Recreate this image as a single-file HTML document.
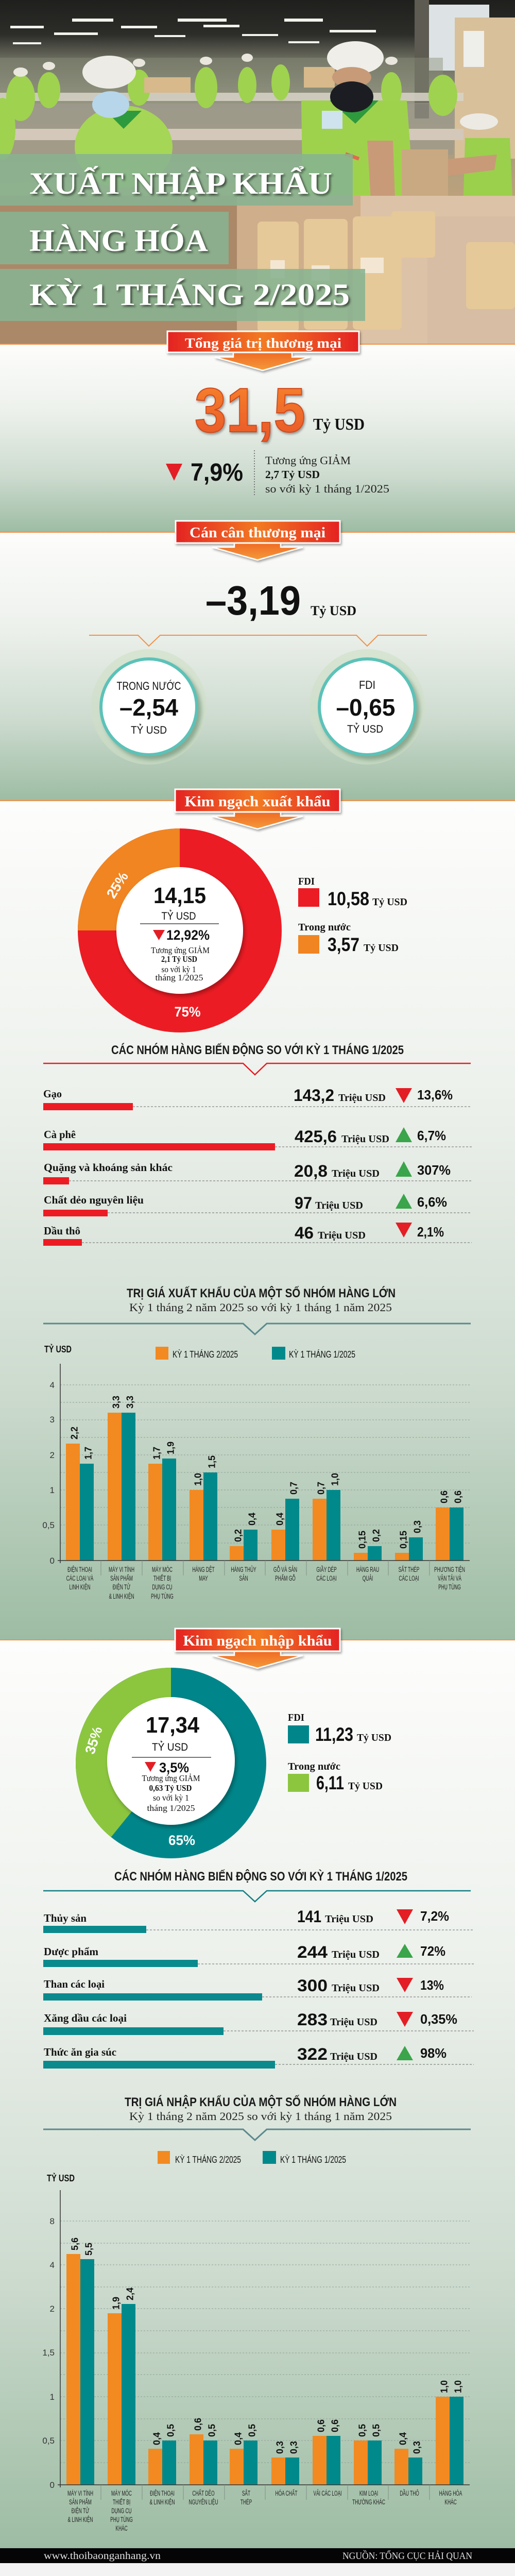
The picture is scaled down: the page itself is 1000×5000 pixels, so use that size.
<!DOCTYPE html>
<html><head><meta charset="utf-8"><title>Xuất nhập khẩu hàng hóa kỳ 1 tháng 2/2025</title>
<style>
html,body{margin:0;padding:0;background:#fff;width:1000px;height:5000px;overflow:hidden}
svg{display:block}
.s{font-family:"Liberation Sans",sans-serif}
.r{font-family:"Liberation Serif",serif}
.b{font-weight:bold}
</style></head><body>
<svg xmlns="http://www.w3.org/2000/svg" width="1000" height="5000" viewBox="0 0 1000 5000">
<defs>
<linearGradient id="ph" x1="0" y1="0" x2="0" y2="1">
<stop offset="0" stop-color="#1f201d"/><stop offset=".1" stop-color="#2c2d29"/><stop offset=".17" stop-color="#6a6b5e"/><stop offset=".3" stop-color="#9a9a88"/><stop offset=".45" stop-color="#ad9e7e"/><stop offset=".6" stop-color="#c0a27c"/><stop offset="1" stop-color="#c3a582"/>
</linearGradient>
<linearGradient id="sg" x1="0" y1="0" x2="0" y2="1">
<stop offset="0" stop-color="#fdfdfc"/><stop offset=".35" stop-color="#edf1ec"/><stop offset=".7" stop-color="#cddbcf"/><stop offset="1" stop-color="#9dbca3"/>
</linearGradient>
<linearGradient id="lab" x1="0" y1="0" x2="1" y2="0">
<stop offset="0" stop-color="#e42322"/><stop offset=".5" stop-color="#f27a22"/><stop offset="1" stop-color="#e42322"/>
</linearGradient>
<linearGradient id="arr" x1="0" y1="0" x2="0" y2="1">
<stop offset="0" stop-color="#ef6a25"/><stop offset="1" stop-color="#f59a3a"/>
</linearGradient>
<linearGradient id="big" x1="0" y1="0" x2="0" y2="1">
<stop offset="0" stop-color="#f7862d"/><stop offset="1" stop-color="#e8552a"/>
</linearGradient>
<filter id="ts" x="-10%" y="-30%" width="120%" height="160%"><feDropShadow dx="3" dy="3" stdDeviation="2" flood-color="#000" flood-opacity="0.6"/></filter>
<filter id="ls" x="-10%" y="-30%" width="120%" height="170%"><feDropShadow dx="2" dy="3" stdDeviation="2" flood-color="#000" flood-opacity="0.35"/></filter>
<filter id="cs" x="-20%" y="-20%" width="140%" height="140%"><feDropShadow dx="3" dy="5" stdDeviation="4" flood-color="#000" flood-opacity="0.3"/></filter>
<filter id="bl"><feGaussianBlur stdDeviation="4"/></filter>
</defs>

<!-- ============ PHOTO ============ -->
<rect x="0" y="0" width="1000" height="668" fill="url(#ph)"/>
<g fill="#f2f2ec">
<rect x="140" y="36" width="80" height="6"/><rect x="345" y="36" width="95" height="6"/><rect x="552" y="36" width="75" height="6"/>
<rect x="20" y="50" width="65" height="5"/><rect x="235" y="50" width="70" height="5"/><rect x="395" y="48" width="70" height="5"/>
<rect x="105" y="63" width="85" height="5"/><rect x="300" y="68" width="60" height="4"/><rect x="470" y="66" width="70" height="4"/>
<rect x="640" y="58" width="90" height="5"/><rect x="560" y="80" width="60" height="4"/><rect x="25" y="82" width="55" height="4"/>
</g>
<rect x="833" y="9" width="117" height="128" fill="#dde3e4"/>
<rect x="805" y="0" width="28" height="230" fill="#5d5b52"/>
<rect x="883" y="34" width="117" height="274" fill="#d8c09b"/>
<rect x="900" y="60" width="40" height="70" fill="#eeeeea"/>
<rect x="0" y="112" width="860" height="90" fill="#8a8d78" opacity=".45"/>
<rect x="0" y="200" width="880" height="100" fill="#9c998e" opacity=".6"/>
<rect x="0" y="180" width="900" height="16" fill="#d8d3c8" opacity=".85"/>
<rect x="0" y="250" width="900" height="22" fill="#d3c8ba"/>
<g fill="#9fd24f">
<ellipse cx="40" cy="190" rx="28" ry="45"/><ellipse cx="95" cy="175" rx="22" ry="35"/><ellipse cx="270" cy="170" rx="22" ry="35"/>
<ellipse cx="400" cy="170" rx="22" ry="40"/><ellipse cx="480" cy="165" rx="18" ry="35"/><ellipse cx="545" cy="160" rx="18" ry="35"/>
<ellipse cx="760" cy="175" rx="20" ry="35"/><ellipse cx="860" cy="185" rx="28" ry="40"/><ellipse cx="5" cy="250" rx="25" ry="60"/>
</g>
<g fill="#e9e6de"><ellipse cx="40" cy="140" rx="14" ry="9"/><ellipse cx="95" cy="128" rx="12" ry="8"/><ellipse cx="270" cy="122" rx="12" ry="8"/><ellipse cx="400" cy="118" rx="12" ry="8"/><ellipse cx="480" cy="112" rx="11" ry="8"/><ellipse cx="760" cy="118" rx="12" ry="8"/></g>
<g fill="#d7b98b"><rect x="280" y="150" width="90" height="30"/><rect x="170" y="120" width="50" height="40"/><rect x="590" y="130" width="60" height="40"/></g>
<!-- left worker -->
<ellipse cx="240" cy="285" rx="95" ry="80" fill="#a5d656"/>
<path d="M205 215 L240 250 L275 215 Z" fill="#2e9a3e"/>
<ellipse cx="212" cy="140" rx="52" ry="32" fill="#ecebe5"/>
<ellipse cx="215" cy="203" rx="36" ry="26" fill="#b7d6ea"/>
<!-- right worker -->
<path d="M585 195 L790 195 L805 400 L588 400 Z" fill="#9fd24c"/>
<path d="M640 195 L690 240 L735 195 Z" fill="#2e9a3e"/>
<ellipse cx="690" cy="112" rx="55" ry="32" fill="#efeee8"/>
<ellipse cx="683" cy="150" rx="38" ry="20" fill="#c79a78"/>
<ellipse cx="683" cy="188" rx="42" ry="30" fill="#1c1d22"/>
<path d="M713 273 L763 273 L770 470 L725 470 Z" fill="#c99a78"/>
<rect x="625" y="215" width="40" height="35" fill="#cfe3ee"/>
<!-- far right worker -->
<path d="M903 268 L990 268 L995 382 L900 382 Z" fill="#9ad04c"/>
<ellipse cx="930" cy="236" rx="37" ry="16" fill="#eceae3"/>
<path d="M835 312 L965 300 L960 330 L840 345 Z" fill="#c99a78"/>
<rect x="780" y="290" width="90" height="90" fill="#c9a981"/>
<!-- foreground table and trays -->
<rect x="0" y="380" width="1000" height="288" fill="#cfae8c"/>
<rect x="700" y="380" width="300" height="288" fill="#dcc2a6"/>
<rect x="830" y="420" width="180" height="248" fill="#d7bda3"/>
<rect x="0" y="380" width="460" height="288" fill="#8e6a4a" opacity=".55"/>
<g fill="#e6c998">
<rect x="500" y="430" width="80" height="215" rx="8"/><rect x="590" y="425" width="85" height="215" rx="8"/><rect x="685" y="420" width="95" height="220" rx="8"/>
<rect x="760" y="410" width="85" height="90" rx="6"/><rect x="905" y="470" width="95" height="130" rx="8"/>
</g>
<g fill="#f3e7d4"><rect x="525" y="505" width="28" height="35"/><rect x="605" y="515" width="35" height="30"/><rect x="700" y="500" width="45" height="30"/></g>
<rect x="670" y="300" width="28" height="7" fill="#e06b4e" transform="rotate(20 684 303)"/>

<!-- title boxes -->
<rect x="0" y="299" width="685" height="100" fill="#88b391" opacity=".88"/>
<rect x="0" y="411" width="444" height="102" fill="#88b391" opacity=".88"/>
<rect x="0" y="522" width="709" height="101" fill="#88b391" opacity=".88"/>
<g class="r b" font-size="60" fill="#fff" filter="url(#ts)">
<text x="57" y="376" textLength="588" lengthAdjust="spacingAndGlyphs">XUẤT NHẬP KHẨU</text>
<text x="57" y="487" textLength="347" lengthAdjust="spacingAndGlyphs">HÀNG HÓA</text>
<text x="57" y="592" textLength="622" lengthAdjust="spacingAndGlyphs">KỲ 1 THÁNG 2/2025</text>
</g>

<!-- ============ SECTION 1 ============ -->
<rect x="0" y="669" width="1000" height="364" fill="url(#sg)"/>
<rect x="0" y="667" width="1000" height="2" fill="#f0924a"/>

<g filter="url(#ls)">
<polygon points="453,683 567,683 567,693 602,693 510,719 417,693 453,693" fill="url(#arr)" stroke="#fff" stroke-width="2.5"/>
<rect x="325" y="643" width="372" height="41" fill="url(#lab)" stroke="#fff" stroke-width="3"/>
</g>
<text class="r b" x="511" y="675" font-size="27" fill="#fff" text-anchor="middle" textLength="304" lengthAdjust="spacingAndGlyphs">Tổng giá trị thương mại</text>

<text class="s b" x="378" y="838" font-size="122" fill="url(#big)" stroke="#d04a1c" stroke-width="2" filter="url(#ls)" textLength="215" lengthAdjust="spacingAndGlyphs">31,5</text>
<text class="r b" x="608" y="834" font-size="32" fill="#111" textLength="100" lengthAdjust="spacingAndGlyphs">Tỷ USD</text>

<polygon points="322,900 354,900 338,933" fill="#e31e25"/>
<text class="s b" x="370" y="933" font-size="48" fill="#111" textLength="102" lengthAdjust="spacingAndGlyphs">7,9%</text>
<line x1="494" y1="874" x2="494" y2="961" stroke="#555" stroke-width="1.5" stroke-dasharray="2,3"/>
<text class="r" x="515" y="901" font-size="22" fill="#222" textLength="166" lengthAdjust="spacingAndGlyphs">Tương ứng GIẢM</text>
<text class="r b" x="515" y="928" font-size="21" fill="#111" textLength="106" lengthAdjust="spacingAndGlyphs">2,7 Tỷ USD</text>
<text class="r" x="515" y="956" font-size="22" fill="#222" textLength="241" lengthAdjust="spacingAndGlyphs">so với kỳ 1 tháng 1/2025</text>

<!-- ============ SECTION 2 ============ -->
<rect x="0" y="1034" width="1000" height="520" fill="url(#sg)"/>
<rect x="0" y="1032" width="1000" height="2" fill="#f0924a"/>
<g filter="url(#ls)">
<polygon points="455,1054 545,1054 545,1062 588,1062 500,1087 412,1062 455,1062" fill="url(#arr)" stroke="#fff" stroke-width="2.5"/>
<rect x="341" y="1011" width="319" height="43" fill="url(#lab)" stroke="#fff" stroke-width="3"/>
</g>
<text class="r b" x="500" y="1043" font-size="28" fill="#fff" text-anchor="middle" textLength="264" lengthAdjust="spacingAndGlyphs">Cán cân thương mại</text>

<text class="s b" x="399" y="1193" font-size="80" fill="#111" textLength="185" lengthAdjust="spacingAndGlyphs">–3,19</text>
<text class="r b" x="603" y="1194" font-size="26" fill="#111" textLength="89" lengthAdjust="spacingAndGlyphs">Tỷ USD</text>

<polyline points="173,1233 268,1233 289,1254 311,1233 692,1233 713,1254 734,1233 829,1233" fill="none" stroke="#f0924a" stroke-width="2"/>

<g>
<circle cx="289" cy="1372" r="112" fill="#cfe0c6" opacity=".6"/>
<circle cx="295" cy="1379" r="96" fill="#5c7f62" opacity=".55" filter="url(#bl)"/>
<circle cx="289" cy="1372" r="93" fill="#fff" stroke="#5cc2b8" stroke-width="6"/>
<circle cx="713" cy="1372" r="112" fill="#cfe0c6" opacity=".6"/>
<circle cx="719" cy="1379" r="96" fill="#5c7f62" opacity=".55" filter="url(#bl)"/>
<circle cx="713" cy="1372" r="93" fill="#fff" stroke="#5cc2b8" stroke-width="6"/>
</g>
<g class="s" fill="#111" text-anchor="middle">
<text x="289" y="1339" font-size="22" textLength="125" lengthAdjust="spacingAndGlyphs">TRONG NƯỚC</text>
<text x="289" y="1389" font-size="46" font-weight="bold" textLength="114" lengthAdjust="spacingAndGlyphs">–2,54</text>
<text x="289" y="1424" font-size="21" textLength="70" lengthAdjust="spacingAndGlyphs">TỶ USD</text>
<text x="713" y="1337" font-size="22" textLength="32" lengthAdjust="spacingAndGlyphs">FDI</text>
<text x="710" y="1389" font-size="46" font-weight="bold" textLength="115" lengthAdjust="spacingAndGlyphs">–0,65</text>
<text x="709" y="1422" font-size="21" textLength="70" lengthAdjust="spacingAndGlyphs">TỶ USD</text>
</g>

<!-- ============ SECTION 3 EXPORT ============ -->
<rect x="0" y="1555" width="1000" height="1628" fill="url(#sg)"/>
<rect x="0" y="1553" width="1000" height="2" fill="#f0924a"/>

<circle cx="349" cy="1806" r="198" fill="#ec1c24"/>
<path d="M349,1806 L151,1806 A198,198 0 0 1 349,1608 Z" fill="#f08522"/>
<circle cx="349" cy="1806" r="123" fill="#fff" filter="url(#cs)"/>
<text class="s b" transform="translate(228,1718) rotate(-58)" x="0" y="9" font-size="27" fill="#fff" text-anchor="middle">25%</text>
<text class="s b" x="364" y="1973" font-size="27" fill="#fff" text-anchor="middle" textLength="51" lengthAdjust="spacingAndGlyphs">75%</text>

<g filter="url(#ls)">
<polygon points="455,1576 545,1576 545,1584 588,1584 500,1609 412,1584 455,1584" fill="url(#arr)" stroke="#fff" stroke-width="2.5"/>
<rect x="340" y="1532" width="320" height="44" fill="url(#lab)" stroke="#fff" stroke-width="3"/>
</g>
<text class="r b" x="500" y="1565" font-size="28" fill="#fff" text-anchor="middle" textLength="283" lengthAdjust="spacingAndGlyphs">Kim ngạch xuất khẩu</text>

<g fill="#111" text-anchor="middle">
<text class="s b" x="349" y="1753" font-size="44" textLength="102" lengthAdjust="spacingAndGlyphs">14,15</text>
<text class="s" x="347" y="1785" font-size="21" textLength="67" lengthAdjust="spacingAndGlyphs">TỶ USD</text>
<text class="s b" x="365" y="1824" font-size="27" textLength="84" lengthAdjust="spacingAndGlyphs">12,92%</text>
<text class="r" x="350" y="1850" font-size="17" textLength="114" lengthAdjust="spacingAndGlyphs">Tương ứng GIẢM</text>
<text class="r b" x="348" y="1867" font-size="17" textLength="70" lengthAdjust="spacingAndGlyphs">2,1 Tỷ USD</text>
<text class="r" x="347" y="1887" font-size="17" textLength="67" lengthAdjust="spacingAndGlyphs">so với kỳ 1</text>
<text class="r" x="348" y="1903" font-size="17" textLength="93" lengthAdjust="spacingAndGlyphs">tháng 1/2025</text>
</g>
<line x1="272" y1="1793" x2="425" y2="1793" stroke="#222" stroke-width="1.2"/>
<polygon points="297,1805 320,1805 308.5,1825" fill="#e31e25"/>

<text class="r b" x="579" y="1717" font-size="20" fill="#111" textLength="32" lengthAdjust="spacingAndGlyphs">FDI</text>
<rect x="579" y="1724" width="41" height="36" fill="#ec1c24"/>
<text class="s b" x="636" y="1757" font-size="37" fill="#111" textLength="81" lengthAdjust="spacingAndGlyphs">10,58</text>
<text class="r b" x="723" y="1757" font-size="20" fill="#111" textLength="68" lengthAdjust="spacingAndGlyphs">Tỷ USD</text>
<text class="r b" x="579" y="1806" font-size="20" fill="#111" textLength="102" lengthAdjust="spacingAndGlyphs">Trong nước</text>
<rect x="579" y="1815" width="41" height="36" fill="#f08522"/>
<text class="s b" x="636" y="1846" font-size="37" fill="#111" textLength="62" lengthAdjust="spacingAndGlyphs">3,57</text>
<text class="r b" x="706" y="1846" font-size="20" fill="#111" textLength="68" lengthAdjust="spacingAndGlyphs">Tỷ USD</text>

<text class="s b" x="216" y="2046" font-size="24" fill="#1a1a1a" textLength="568" lengthAdjust="spacingAndGlyphs">CÁC NHÓM HÀNG BIẾN ĐỘNG SO VỚI KỲ 1 THÁNG 1/2025</text>
<polyline points="84,2064 472,2064 495,2086 518,2064 914,2064" fill="none" stroke="#e41e26" stroke-width="2.5"/>

<g stroke="#6a6a6a" stroke-width="1" stroke-dasharray="4,3">
<line x1="258" y1="2148" x2="916" y2="2148"/>
<line x1="534" y1="2226" x2="916" y2="2226"/>
<line x1="134" y1="2292" x2="916" y2="2292"/>
<line x1="209" y1="2354" x2="916" y2="2354"/>
<line x1="159" y1="2412" x2="916" y2="2412"/>
</g>
<g fill="#ec1c24">
<rect x="84" y="2141" width="174" height="14"/>
<rect x="84" y="2219" width="450" height="14"/>
<rect x="84" y="2285" width="50" height="14"/>
<rect x="84" y="2348" width="125" height="13"/>
<rect x="84" y="2405" width="75" height="13"/>
</g>
<g class="r b" font-size="21" fill="#111">
<text x="84" y="2130" textLength="36" lengthAdjust="spacingAndGlyphs">Gạo</text>
<text x="85" y="2209" textLength="62" lengthAdjust="spacingAndGlyphs">Cà phê</text>
<text x="85" y="2273" textLength="250" lengthAdjust="spacingAndGlyphs">Quặng và khoáng sản khác</text>
<text x="85" y="2336" textLength="194" lengthAdjust="spacingAndGlyphs">Chất dẻo nguyên liệu</text>
<text x="85" y="2396" textLength="71" lengthAdjust="spacingAndGlyphs">Dầu thô</text>
</g>
<g class="s b" font-size="32" fill="#111">
<text x="570" y="2137" textLength="79" lengthAdjust="spacingAndGlyphs">143,2</text>
<text x="572" y="2217" textLength="82" lengthAdjust="spacingAndGlyphs">425,6</text>
<text x="571" y="2284" textLength="65" lengthAdjust="spacingAndGlyphs">20,8</text>
<text x="572" y="2346" textLength="34" lengthAdjust="spacingAndGlyphs">97</text>
<text x="572" y="2404" textLength="37" lengthAdjust="spacingAndGlyphs">46</text>
</g>
<g class="r b" font-size="20" fill="#111">
<text x="657" y="2137" textLength="92" lengthAdjust="spacingAndGlyphs">Triệu USD</text>
<text x="663" y="2217" textLength="93" lengthAdjust="spacingAndGlyphs">Triệu USD</text>
<text x="644" y="2284" textLength="93" lengthAdjust="spacingAndGlyphs">Triệu USD</text>
<text x="612" y="2346" textLength="93" lengthAdjust="spacingAndGlyphs">Triệu USD</text>
<text x="617" y="2404" textLength="93" lengthAdjust="spacingAndGlyphs">Triệu USD</text>
</g>
<polygon points="768,2112 800,2112 784,2141" fill="#e31e25"/>
<polygon points="768,2217 800,2217 784,2188" fill="#3aa54a"/>
<polygon points="768,2284 800,2284 784,2254" fill="#3aa54a"/>
<polygon points="768,2346 800,2346 784,2317" fill="#3aa54a"/>
<polygon points="768,2373 800,2373 784,2402" fill="#e31e25"/>
<g class="s b" font-size="26" fill="#111">
<text x="810" y="2134" textLength="69" lengthAdjust="spacingAndGlyphs">13,6%</text>
<text x="810" y="2213" textLength="56" lengthAdjust="spacingAndGlyphs">6,7%</text>
<text x="810" y="2280" textLength="65" lengthAdjust="spacingAndGlyphs">307%</text>
<text x="810" y="2342" textLength="58" lengthAdjust="spacingAndGlyphs">6,6%</text>
<text x="810" y="2400" textLength="52" lengthAdjust="spacingAndGlyphs">2,1%</text>
</g>

<text class="s b" x="246" y="2518" font-size="24" fill="#1a1a1a" textLength="522" lengthAdjust="spacingAndGlyphs">TRỊ GIÁ XUẤT KHẨU CỦA MỘT SỐ NHÓM HÀNG LỚN</text>
<text class="r" x="251" y="2545" font-size="22" fill="#222" textLength="510" lengthAdjust="spacingAndGlyphs">Kỳ 1 tháng 2 năm 2025 so với kỳ 1 tháng 1 năm 2025</text>
<polyline points="84,2569 472,2569 495,2590 518,2569 914,2569" fill="none" stroke="#5b8a8d" stroke-width="3"/>
<text class="s b" x="86" y="2625" font-size="18" fill="#111" textLength="53" lengthAdjust="spacingAndGlyphs">TỶ USD</text>
<rect x="302" y="2614" width="25" height="25" fill="#f28a21"/>
<text class="s" x="335" y="2635" font-size="18" fill="#111" textLength="127" lengthAdjust="spacingAndGlyphs">KỲ 1 THÁNG 2/2025</text>
<rect x="528" y="2614" width="26" height="25" fill="#00898b"/>
<text class="s" x="561" y="2635" font-size="18" fill="#111" textLength="129" lengthAdjust="spacingAndGlyphs">KỲ 1 THÁNG 1/2025</text>

<g stroke="#8f9f95" stroke-width="0.9" stroke-dasharray="3,3">
<line x1="117" y1="2688" x2="912" y2="2688"/><line x1="117" y1="2722" x2="912" y2="2722"/><line x1="117" y1="2756" x2="912" y2="2756"/>
<line x1="117" y1="2790" x2="912" y2="2790"/><line x1="117" y1="2824" x2="912" y2="2824"/><line x1="117" y1="2858" x2="912" y2="2858"/>
<line x1="117" y1="2892" x2="912" y2="2892"/><line x1="117" y1="2926" x2="912" y2="2926"/><line x1="117" y1="2960" x2="912" y2="2960"/>
<line x1="117" y1="2995" x2="912" y2="2995"/>
</g>
<g class="s" font-size="17" fill="#333" text-anchor="end">
<text x="106" y="2694">4</text><text x="106" y="2761">3</text><text x="106" y="2830">2</text><text x="106" y="2898">1</text><text x="106" y="2966">0,5</text><text x="106" y="3035">0</text>
</g>
<g fill="#f28a21">
<rect x="128" y="2802" width="27" height="227"/><rect x="209" y="2742" width="27" height="287"/><rect x="288" y="2841" width="27" height="188"/>
<rect x="368" y="2892" width="27" height="137"/><rect x="446" y="3001" width="27" height="28"/><rect x="527" y="2969" width="27" height="60"/>
<rect x="607" y="2909" width="27" height="120"/><rect x="687" y="3014" width="27" height="15"/><rect x="767" y="3014" width="27" height="15"/>
<rect x="846" y="2926" width="27" height="103"/>
</g>
<g fill="#00898b">
<rect x="155" y="2841" width="27" height="188"/><rect x="236" y="2742" width="27" height="287"/><rect x="315" y="2831" width="27" height="198"/>
<rect x="395" y="2858" width="27" height="171"/><rect x="473" y="2969" width="27" height="60"/><rect x="554" y="2909" width="27" height="120"/>
<rect x="634" y="2892" width="27" height="137"/><rect x="714" y="3001" width="27" height="28"/><rect x="794" y="2984" width="27" height="45"/>
<rect x="873" y="2926" width="27" height="103"/>
</g>
<line x1="117" y1="2647" x2="117" y2="3034" stroke="#333" stroke-width="1.5"/>
<line x1="112" y1="3029" x2="912" y2="3029" stroke="#333" stroke-width="1.5"/>
<g stroke="#7f8f85" stroke-width="1">
<line x1="196" y1="3029" x2="196" y2="3058"/><line x1="276" y1="3029" x2="276" y2="3058"/><line x1="356" y1="3029" x2="356" y2="3058"/>
<line x1="436" y1="3029" x2="436" y2="3058"/><line x1="515" y1="3029" x2="515" y2="3058"/><line x1="595" y1="3029" x2="595" y2="3058"/>
<line x1="675" y1="3029" x2="675" y2="3058"/><line x1="754" y1="3029" x2="754" y2="3058"/><line x1="834" y1="3029" x2="834" y2="3058"/>
</g>
<g class="s b" font-size="18" fill="#111">
<text transform="translate(150.5,2794) rotate(-90)">2,2</text><text transform="translate(177.5,2833) rotate(-90)">1,7</text>
<text transform="translate(231.5,2734) rotate(-90)">3,3</text><text transform="translate(258.5,2734) rotate(-90)">3,3</text>
<text transform="translate(310.5,2833) rotate(-90)">1,7</text><text transform="translate(337.5,2823) rotate(-90)">1,9</text>
<text transform="translate(390.5,2884) rotate(-90)">1,0</text><text transform="translate(417.5,2850) rotate(-90)">1,5</text>
<text transform="translate(468.5,2993) rotate(-90)">0,2</text><text transform="translate(495.5,2961) rotate(-90)">0,4</text>
<text transform="translate(549.5,2961) rotate(-90)">0,4</text><text transform="translate(576.5,2901) rotate(-90)">0,7</text>
<text transform="translate(629.5,2901) rotate(-90)">0,7</text><text transform="translate(656.5,2884) rotate(-90)">1,0</text>
<text transform="translate(709.5,3006) rotate(-90)">0,15</text><text transform="translate(736.5,2993) rotate(-90)">0,2</text>
<text transform="translate(789.5,3006) rotate(-90)">0,15</text><text transform="translate(816.5,2976) rotate(-90)">0,3</text>
<text transform="translate(868.5,2918) rotate(-90)">0,6</text><text transform="translate(895.5,2918) rotate(-90)">0,6</text>
</g>
<g class="s" font-size="14" fill="#222" text-anchor="middle">
<text transform="translate(155,0) scale(0.6,1)"><tspan x="0" y="3051">ĐIỆN THOẠI</tspan><tspan x="0" y="3068">CÁC LOẠI VÀ</tspan><tspan x="0" y="3085">LINH KIỆN</tspan></text>
<text transform="translate(236,0) scale(0.6,1)"><tspan x="0" y="3051">MÁY VI TÍNH</tspan><tspan x="0" y="3068">SẢN PHẨM</tspan><tspan x="0" y="3085">ĐIỆN TỬ</tspan><tspan x="0" y="3103">&amp; LINH KIỆN</tspan></text>
<text transform="translate(315,0) scale(0.6,1)"><tspan x="0" y="3051">MÁY MÓC</tspan><tspan x="0" y="3068">THIẾT BỊ</tspan><tspan x="0" y="3085">DỤNG CỤ</tspan><tspan x="0" y="3103">PHỤ TÙNG</tspan></text>
<text transform="translate(395,0) scale(0.6,1)"><tspan x="0" y="3051">HÀNG DỆT</tspan><tspan x="0" y="3068">MAY</tspan></text>
<text transform="translate(473,0) scale(0.6,1)"><tspan x="0" y="3051">HÀNG THỦY</tspan><tspan x="0" y="3068">SẢN</tspan></text>
<text transform="translate(554,0) scale(0.6,1)"><tspan x="0" y="3051">GỖ VÀ SẢN</tspan><tspan x="0" y="3068">PHẨM GỖ</tspan></text>
<text transform="translate(634,0) scale(0.6,1)"><tspan x="0" y="3051">GIẦY DÉP</tspan><tspan x="0" y="3068">CÁC LOẠI</tspan></text>
<text transform="translate(714,0) scale(0.6,1)"><tspan x="0" y="3051">HÀNG RAU</tspan><tspan x="0" y="3068">QUẢI</tspan></text>
<text transform="translate(794,0) scale(0.6,1)"><tspan x="0" y="3051">SẮT THÉP</tspan><tspan x="0" y="3068">CÁC LOẠI</tspan></text>
<text transform="translate(873,0) scale(0.6,1)"><tspan x="0" y="3051">PHƯƠNG TIỆN</tspan><tspan x="0" y="3068">VẬN TẢI VÀ</tspan><tspan x="0" y="3085">PHỤ TÙNG</tspan></text>
</g>

<!-- ============ SECTION 4 IMPORT ============ -->
<rect x="0" y="3184" width="1000" height="1762" fill="url(#sg)"/>
<rect x="0" y="3182" width="1000" height="2" fill="#f0924a"/>

<circle cx="332" cy="3422" r="185" fill="#00868a"/>
<path d="M332,3422 L215.6,3565.8 A185,185 0 0 1 332,3237 Z" fill="#8cc63f"/>
<circle cx="332" cy="3418" r="124" fill="#fff" filter="url(#cs)"/>
<text class="s b" transform="translate(182,3378) rotate(-72)" x="0" y="9" font-size="27" fill="#fff" text-anchor="middle">35%</text>
<text class="s b" x="353" y="3581" font-size="27" fill="#fff" text-anchor="middle" textLength="52" lengthAdjust="spacingAndGlyphs">65%</text>

<g filter="url(#ls)">
<polygon points="455,3205 545,3205 545,3213 588,3213 500,3238 412,3213 455,3213" fill="url(#arr)" stroke="#fff" stroke-width="2.5"/>
<rect x="340" y="3161" width="320" height="44" fill="url(#lab)" stroke="#fff" stroke-width="3"/>
</g>
<text class="r b" x="500" y="3194" font-size="28" fill="#fff" text-anchor="middle" textLength="289" lengthAdjust="spacingAndGlyphs">Kim ngạch nhập khẩu</text>

<g fill="#111" text-anchor="middle">
<text class="s b" x="335" y="3363" font-size="44" textLength="104" lengthAdjust="spacingAndGlyphs">17,34</text>
<text class="s" x="330" y="3398" font-size="21" textLength="70" lengthAdjust="spacingAndGlyphs">TỶ USD</text>
<text class="s b" x="338" y="3440" font-size="27" textLength="58" lengthAdjust="spacingAndGlyphs">3,5%</text>
<text class="r" x="332" y="3457" font-size="17" textLength="113" lengthAdjust="spacingAndGlyphs">Tương ứng GIẢM</text>
<text class="r b" x="331" y="3476" font-size="17" textLength="83" lengthAdjust="spacingAndGlyphs">0,63 Tỷ USD</text>
<text class="r" x="332" y="3495" font-size="17" textLength="70" lengthAdjust="spacingAndGlyphs">so với kỳ 1</text>
<text class="r" x="332" y="3515" font-size="17" textLength="93" lengthAdjust="spacingAndGlyphs">tháng 1/2025</text>
</g>
<line x1="256" y1="3411" x2="410" y2="3411" stroke="#222" stroke-width="1.2"/>
<polygon points="281,3420 303,3420 292,3439" fill="#e31e25"/>

<text class="r b" x="559" y="3340" font-size="20" fill="#111" textLength="32" lengthAdjust="spacingAndGlyphs">FDI</text>
<rect x="559" y="3349" width="41" height="35" fill="#00868a"/>
<text class="s b" x="612" y="3379" font-size="37" fill="#111" textLength="74" lengthAdjust="spacingAndGlyphs">11,23</text>
<text class="r b" x="693" y="3379" font-size="20" fill="#111" textLength="67" lengthAdjust="spacingAndGlyphs">Tỷ USD</text>
<text class="r b" x="559" y="3435" font-size="20" fill="#111" textLength="102" lengthAdjust="spacingAndGlyphs">Trong nước</text>
<rect x="559" y="3443" width="41" height="35" fill="#8cc63f"/>
<text class="s b" x="614" y="3473" font-size="37" fill="#111" textLength="54" lengthAdjust="spacingAndGlyphs">6,11</text>
<text class="r b" x="676" y="3473" font-size="20" fill="#111" textLength="67" lengthAdjust="spacingAndGlyphs">Tỷ USD</text>

<text class="s b" x="222" y="3650" font-size="24" fill="#1a1a1a" textLength="569" lengthAdjust="spacingAndGlyphs">CÁC NHÓM HÀNG BIẾN ĐỘNG SO VỚI KỲ 1 THÁNG 1/2025</text>
<polyline points="84,3670 472,3670 495,3691 518,3670 914,3670" fill="none" stroke="#137f85" stroke-width="2.5"/>

<g stroke="#6a6a6a" stroke-width="1" stroke-dasharray="4,3">
<line x1="284" y1="3746" x2="920" y2="3746"/>
<line x1="384" y1="3812" x2="920" y2="3812"/>
<line x1="509" y1="3876" x2="916" y2="3876"/>
<line x1="434" y1="3942" x2="920" y2="3942"/>
<line x1="534" y1="4007" x2="920" y2="4007"/>
</g>
<g fill="#0a8a8c">
<rect x="84" y="3738" width="200" height="14"/>
<rect x="84" y="3804" width="300" height="14"/>
<rect x="84" y="3869" width="425" height="14"/>
<rect x="84" y="3935" width="350" height="15"/>
<rect x="84" y="4000" width="450" height="15"/>
</g>
<g class="r b" font-size="21" fill="#111">
<text x="85" y="3730" textLength="83" lengthAdjust="spacingAndGlyphs">Thủy sản</text>
<text x="85" y="3795" textLength="106" lengthAdjust="spacingAndGlyphs">Dược phẩm</text>
<text x="85" y="3858" textLength="118" lengthAdjust="spacingAndGlyphs">Than các loại</text>
<text x="85" y="3924" textLength="161" lengthAdjust="spacingAndGlyphs">Xăng dầu các loại</text>
<text x="85" y="3990" textLength="141" lengthAdjust="spacingAndGlyphs">Thức ăn gia súc</text>
</g>
<g class="s b" font-size="32" fill="#111">
<text x="577" y="3731" textLength="47" lengthAdjust="spacingAndGlyphs">141</text>
<text x="577" y="3800" textLength="59" lengthAdjust="spacingAndGlyphs">244</text>
<text x="577" y="3865" textLength="59" lengthAdjust="spacingAndGlyphs">300</text>
<text x="577" y="3931" textLength="59" lengthAdjust="spacingAndGlyphs">283</text>
<text x="577" y="3998" textLength="59" lengthAdjust="spacingAndGlyphs">322</text>
</g>
<g class="r b" font-size="20" fill="#111">
<text x="631" y="3731" textLength="94" lengthAdjust="spacingAndGlyphs">Triệu USD</text>
<text x="644" y="3800" textLength="93" lengthAdjust="spacingAndGlyphs">Triệu USD</text>
<text x="644" y="3865" textLength="93" lengthAdjust="spacingAndGlyphs">Triệu USD</text>
<text x="641" y="3931" textLength="92" lengthAdjust="spacingAndGlyphs">Triệu USD</text>
<text x="641" y="3998" textLength="92" lengthAdjust="spacingAndGlyphs">Triệu USD</text>
</g>
<polygon points="770,3706 802,3706 786,3735" fill="#e31e25"/>
<polygon points="770,3800 802,3800 786,3773" fill="#3aa54a"/>
<polygon points="770,3839 802,3839 786,3867" fill="#e31e25"/>
<polygon points="770,3905 802,3905 786,3934" fill="#e31e25"/>
<polygon points="770,3999 802,3999 786,3971" fill="#3aa54a"/>
<g class="s b" font-size="26" fill="#111">
<text x="816" y="3728" textLength="56" lengthAdjust="spacingAndGlyphs">7,2%</text>
<text x="816" y="3796" textLength="49" lengthAdjust="spacingAndGlyphs">72%</text>
<text x="816" y="3862" textLength="46" lengthAdjust="spacingAndGlyphs">13%</text>
<text x="816" y="3928" textLength="72" lengthAdjust="spacingAndGlyphs">0,35%</text>
<text x="816" y="3994" textLength="51" lengthAdjust="spacingAndGlyphs">98%</text>
</g>

<text class="s b" x="242" y="4088" font-size="24" fill="#1a1a1a" textLength="528" lengthAdjust="spacingAndGlyphs">TRỊ GIÁ NHẬP KHẨU CỦA MỘT SỐ NHÓM HÀNG LỚN</text>
<text class="r" x="251" y="4115" font-size="22" fill="#222" textLength="510" lengthAdjust="spacingAndGlyphs">Kỳ 1 tháng 2 năm 2025 so với kỳ 1 tháng 1 năm 2025</text>
<polyline points="84,4133 472,4133 495,4154 518,4133 914,4133" fill="none" stroke="#5b8a8d" stroke-width="3"/>
<rect x="306" y="4175" width="24" height="25" fill="#f28a21"/>
<text class="s" x="340" y="4198" font-size="18" fill="#111" textLength="128" lengthAdjust="spacingAndGlyphs">KỲ 1 THÁNG 2/2025</text>
<rect x="510" y="4175" width="26" height="25" fill="#00898b"/>
<text class="s" x="544" y="4198" font-size="18" fill="#111" textLength="128" lengthAdjust="spacingAndGlyphs">KỲ 1 THÁNG 1/2025</text>
<text class="s b" x="91" y="4234" font-size="18" fill="#111" textLength="54" lengthAdjust="spacingAndGlyphs">TỶ USD</text>

<g stroke="#8f9f95" stroke-width="0.9" stroke-dasharray="3,3">
<line x1="117" y1="4311" x2="912" y2="4311"/><line x1="117" y1="4354" x2="912" y2="4354"/><line x1="117" y1="4396" x2="912" y2="4396"/>
<line x1="117" y1="4439" x2="912" y2="4439"/><line x1="117" y1="4481" x2="912" y2="4481"/><line x1="117" y1="4524" x2="912" y2="4524"/>
<line x1="117" y1="4567" x2="912" y2="4567"/><line x1="117" y1="4609" x2="912" y2="4609"/><line x1="117" y1="4652" x2="912" y2="4652"/>
<line x1="117" y1="4695" x2="912" y2="4695"/><line x1="117" y1="4737" x2="912" y2="4737"/><line x1="117" y1="4780" x2="912" y2="4780"/>
</g>
<g class="s" font-size="17" fill="#333" text-anchor="end">
<text x="106" y="4317">8</text><text x="106" y="4402">4</text><text x="106" y="4487">2</text><text x="106" y="4572">1,5</text><text x="106" y="4658">1</text><text x="106" y="4743">0,5</text><text x="106" y="4829">0</text>
</g>
<g fill="#f28a21">
<rect x="129" y="4375" width="27" height="448"/><rect x="209" y="4490" width="27" height="333"/><rect x="288" y="4753" width="27" height="70"/>
<rect x="368" y="4725" width="27" height="98"/><rect x="446" y="4753" width="27" height="70"/><rect x="527" y="4770" width="27" height="53"/>
<rect x="607" y="4728" width="27" height="95"/><rect x="687" y="4737" width="27" height="86"/><rect x="766" y="4753" width="27" height="70"/>
<rect x="846" y="4652" width="27" height="171"/>
</g>
<g fill="#00898b">
<rect x="156" y="4385" width="27" height="438"/><rect x="236" y="4472" width="27" height="351"/><rect x="315" y="4737" width="27" height="86"/>
<rect x="395" y="4737" width="27" height="86"/><rect x="473" y="4737" width="27" height="86"/><rect x="554" y="4770" width="27" height="53"/>
<rect x="634" y="4728" width="27" height="95"/><rect x="714" y="4737" width="27" height="86"/><rect x="793" y="4770" width="27" height="53"/>
<rect x="873" y="4652" width="27" height="171"/>
</g>
<line x1="117" y1="4251" x2="117" y2="4828" stroke="#333" stroke-width="1.5"/>
<line x1="112" y1="4823" x2="912" y2="4823" stroke="#333" stroke-width="1.5"/>
<g stroke="#7f8f85" stroke-width="1">
<line x1="196" y1="4823" x2="196" y2="4852"/><line x1="276" y1="4823" x2="276" y2="4852"/><line x1="356" y1="4823" x2="356" y2="4852"/>
<line x1="436" y1="4823" x2="436" y2="4852"/><line x1="515" y1="4823" x2="515" y2="4852"/><line x1="595" y1="4823" x2="595" y2="4852"/>
<line x1="675" y1="4823" x2="675" y2="4852"/><line x1="754" y1="4823" x2="754" y2="4852"/><line x1="834" y1="4823" x2="834" y2="4852"/>
</g>
<g class="s b" font-size="18" fill="#111">
<text transform="translate(151.5,4368) rotate(-90)">5,6</text><text transform="translate(178.5,4378) rotate(-90)">5,5</text>
<text transform="translate(231.5,4483) rotate(-90)">1,9</text><text transform="translate(258.5,4465) rotate(-90)">2,4</text>
<text transform="translate(310.5,4746) rotate(-90)">0,4</text><text transform="translate(337.5,4730) rotate(-90)">0,5</text>
<text transform="translate(390.5,4718) rotate(-90)">0,6</text><text transform="translate(417.5,4730) rotate(-90)">0,5</text>
<text transform="translate(468.5,4746) rotate(-90)">0,4</text><text transform="translate(495.5,4730) rotate(-90)">0,5</text>
<text transform="translate(549.5,4763) rotate(-90)">0,3</text><text transform="translate(576.5,4763) rotate(-90)">0,3</text>
<text transform="translate(629.5,4721) rotate(-90)">0,6</text><text transform="translate(656.5,4721) rotate(-90)">0,6</text>
<text transform="translate(709.5,4730) rotate(-90)">0,5</text><text transform="translate(736.5,4730) rotate(-90)">0,5</text>
<text transform="translate(788.5,4746) rotate(-90)">0,4</text><text transform="translate(815.5,4763) rotate(-90)">0,3</text>
<text transform="translate(868.5,4645) rotate(-90)">1,0</text><text transform="translate(895.5,4645) rotate(-90)">1,0</text>
</g>
<g class="s" font-size="14" fill="#222" text-anchor="middle">
<text transform="translate(156,0) scale(0.6,1)"><tspan x="0" y="4844">MÁY VI TÍNH</tspan><tspan x="0" y="4861">SẢN PHẨM</tspan><tspan x="0" y="4878">ĐIỆN TỬ</tspan><tspan x="0" y="4895">&amp; LINH KIỆN</tspan></text>
<text transform="translate(236,0) scale(0.6,1)"><tspan x="0" y="4844">MÁY MÓC</tspan><tspan x="0" y="4861">THIẾT BỊ</tspan><tspan x="0" y="4878">DỤNG CỤ</tspan><tspan x="0" y="4895">PHỤ TÙNG</tspan><tspan x="0" y="4912">KHÁC</tspan></text>
<text transform="translate(315,0) scale(0.6,1)"><tspan x="0" y="4844">ĐIỆN THOẠI</tspan><tspan x="0" y="4861">&amp; LINH KIỆN</tspan></text>
<text transform="translate(395,0) scale(0.6,1)"><tspan x="0" y="4844">CHẤT DẺO</tspan><tspan x="0" y="4861">NGUYÊN LIỆU</tspan></text>
<text transform="translate(478,0) scale(0.6,1)"><tspan x="0" y="4844">SẮT</tspan><tspan x="0" y="4861">THÉP</tspan></text>
<text transform="translate(556,0) scale(0.6,1)"><tspan x="0" y="4844">HÓA CHẤT</tspan></text>
<text transform="translate(636,0) scale(0.6,1)"><tspan x="0" y="4844">VẢI CÁC LOẠI</tspan></text>
<text transform="translate(716,0) scale(0.6,1)"><tspan x="0" y="4844">KIM LOẠI</tspan><tspan x="0" y="4861">THƯỜNG KHÁC</tspan></text>
<text transform="translate(795,0) scale(0.6,1)"><tspan x="0" y="4844">DẦU THÔ</tspan></text>
<text transform="translate(875,0) scale(0.6,1)"><tspan x="0" y="4844">HÀNG HÓA</tspan><tspan x="0" y="4861">KHÁC</tspan></text>
</g>

<rect x="0" y="4946" width="1000" height="29" fill="#050505"/>
<rect x="0" y="4975" width="1000" height="25" fill="#f3f3f3"/>
<text class="r" x="85" y="4967" font-size="20" fill="#e2e2e2" textLength="227" lengthAdjust="spacingAndGlyphs">www.thoibaonganhang.vn</text>
<text class="r" x="917" y="4967" font-size="19" fill="#e2e2e2" text-anchor="end" textLength="252" lengthAdjust="spacingAndGlyphs">NGUỒN: TỔNG CỤC HẢI QUAN</text>
</svg>
</body></html>
